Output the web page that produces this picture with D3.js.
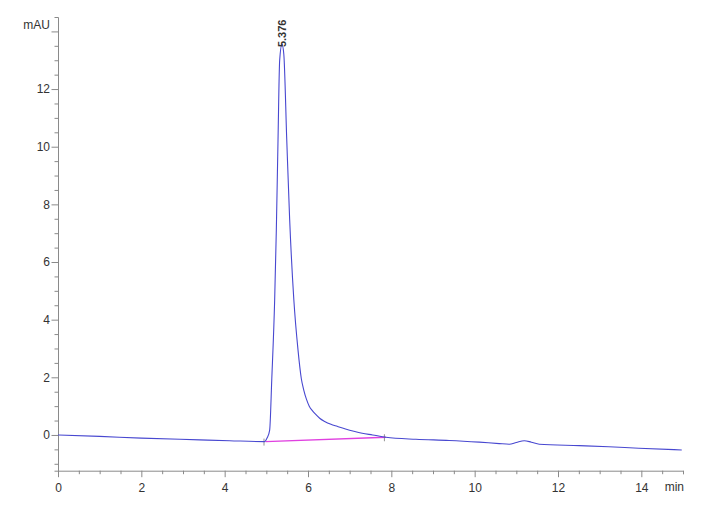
<!DOCTYPE html>
<html><head><meta charset="utf-8">
<script src="https://cdn.jsdelivr.net/npm/d3@7"></script>
<style>
html,body{margin:0;padding:0;background:#fff;}
svg{display:block;}
text{font-family:"Liberation Sans Narrow","Liberation Sans",Arial,sans-serif;}
</style></head>
<body>
<svg id="chart" width="718" height="517"></svg>
<script>
// Chromatogram signal (time in min, absorbance in mAU)
const signalTime = [0, 1.0, 2.0, 3.4, 4.12, 4.96, 5.02, 5.08, 5.13, 5.2, 5.24, 5.28, 5.32, 5.376, 5.42, 5.49, 5.56, 5.66, 5.76, 5.84, 5.9, 5.96, 6.03, 6.1, 6.18, 6.28, 6.4, 6.55, 6.7, 6.9, 7.1, 7.3, 7.55, 7.87, 8.59, 9.39, 10.11, 10.59, 10.83, 11.0, 11.19, 11.36, 11.55, 12.51, 13.22, 13.94, 14.97];
const signalMAU  = [0.0, -0.05, -0.11, -0.17, -0.2, -0.23, -0.1, 0.17, 1.91, 4.69, 7.12, 10.2, 13.0, 13.56, 13.2, 10.24, 7.47, 4.69, 2.95, 1.95, 1.55, 1.25, 1.0, 0.85, 0.72, 0.58, 0.47, 0.37, 0.3, 0.21, 0.13, 0.06, 0.0, -0.08, -0.15, -0.19, -0.25, -0.3, -0.32, -0.26, -0.2, -0.25, -0.32, -0.37, -0.41, -0.46, -0.52];
// Integration baseline of the main peak
const baselineTime = [4.98, 7.87];
const baselineMAU  = [-0.23, -0.08];
// Peak annotation
const peakLabels = ["5.376"];
const peakTimes  = [5.376];
const peakHeights = [13.56];
// Axis ticks
const xTickLabels = [0, 2, 4, 6, 8, 10, 12, 14];
const yTickLabels = [0, 2, 4, 6, 8, 10, 12];
const xDomain = [0, 15];
const yDomain = [-1.24, 14.5];

const svg = d3.select("#chart");
const x = d3.scaleLinear().domain(xDomain).range([58, 683]);
const y = d3.scaleLinear().domain(yDomain).range([470.7, 17]);
const axisColor = "#8a8a8a";
const textColor = "#333";
const font = '"Liberation Sans Narrow","Liberation Sans",Arial,sans-serif';

// X axis
const xMinor = d3.range(0, 15.01, 0.5).filter(v => v % 2 !== 0);
const gx = svg.append("g").attr("transform", `translate(0,${y(yDomain[0])})`);
gx.call(d3.axisBottom(x).tickValues(xMinor).tickSize(3.5).tickFormat(""));
gx.append("g").call(d3.axisBottom(x).tickValues(xTickLabels).tickSize(6.5).tickFormat(d3.format("d")));
gx.selectAll("path.domain").attr("stroke", axisColor);
gx.selectAll(".tick line").attr("stroke", axisColor);
gx.selectAll(".tick text").attr("fill", textColor).attr("font-size", 12).attr("dy", "1.0em").attr("font-family", font);
gx.selectAll("g > g > path.domain").remove();

// Y axis
const yMinor = d3.range(-1, 14.01, 0.5).filter(v => v % 2 !== 0);
const gy = svg.append("g").attr("transform", `translate(${x(0)},0)`);
gy.call(d3.axisLeft(y).tickValues(yMinor).tickSize(3.5).tickFormat(""));
gy.append("g").call(d3.axisLeft(y).tickValues(yTickLabels.concat([14])).tickSize(6.5)
  .tickFormat(d => d === 14 ? "" : d3.format("d")(d)));
gy.selectAll("path.domain").attr("stroke", axisColor);
gy.selectAll(".tick line").attr("stroke", axisColor);
gy.selectAll(".tick text").attr("fill", textColor).attr("font-size", 12).attr("x", -8).attr("font-family", font);
gy.selectAll("g > g > path.domain").remove();

// Axis unit labels
svg.append("text").attr("x", 50).attr("y", 29).attr("text-anchor", "end")
  .attr("font-size", 12).attr("fill", textColor).text("mAU");
svg.append("text").attr("x", 684).attr("y", 491).attr("text-anchor", "end")
  .attr("font-size", 12).attr("fill", textColor).text("min");

// Baseline (magenta)
svg.append("line")
  .attr("x1", x(baselineTime[0])).attr("y1", y(baselineMAU[0]))
  .attr("x2", x(baselineTime[1])).attr("y2", y(baselineMAU[1]))
  .attr("stroke", "#e040e0").attr("stroke-width", 1.4);

// Peak start/end markers
baselineTime.forEach((t, i) => {
  svg.append("line").attr("x1", x(t) - 1.5).attr("x2", x(t) - 1.5)
    .attr("y1", y(baselineMAU[i]) - 3).attr("y2", y(baselineMAU[i]) + 4)
    .attr("stroke", "#777").attr("stroke-width", 0.8);
});

// Signal
const pts = signalTime.map((t, i) => [t, signalMAU[i]]);
svg.append("path").datum(pts)
  .attr("fill", "none").attr("stroke", "#4848d0").attr("stroke-width", 1.1)
  .attr("d", d3.line().x(d => x(d[0])).y(d => y(d[1])).curve(d3.curveMonotoneX));

// Peak label
peakLabels.forEach((lab, i) => {
  const px = x(peakTimes[i]) + 4, py = y(peakHeights[i]) + 3;
  svg.append("text").attr("transform", `translate(${px},${py}) rotate(-90)`)
    .attr("font-size", 11).attr("fill", "#333").attr("font-weight", "bold").text(lab);
});
</script>
</body></html>
